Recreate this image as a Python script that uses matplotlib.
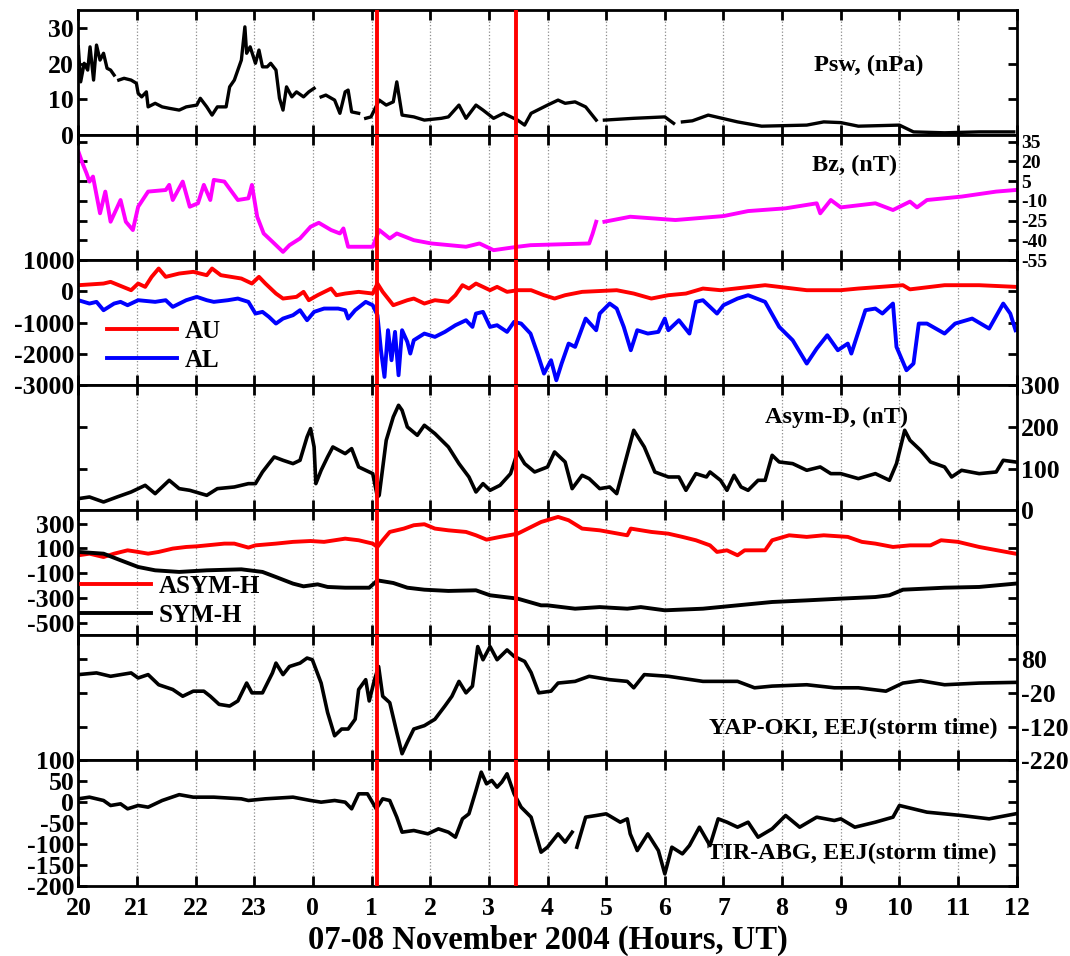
import matplotlib
matplotlib.use("Agg")
import matplotlib.pyplot as plt
import numpy as np

nan = np.nan

# time axis: hours counted from 00 UT 07 Nov (24 = 00 UT 08 Nov)
hour_ticks = list(range(20, 37))
hour_labels = ['20', '21', '22', '23', '0', '1', '2', '3', '4', '5', '6',
               '7', '8', '9', '10', '11', '12']
event_times = [25.10, 27.47]   # red markers

# solar wind dynamic pressure (nPa), nan = data gap
psw_t = [20.0, 20.04, 20.1, 20.16, 20.2, 20.26, 20.31, 20.37, 20.43, 20.49, 20.55, 20.61, 20.65,
         20.69, 20.78, 20.9, 20.99, 21.02, 21.08, 21.16, 21.19, 21.31, 21.43,
         21.55, 21.72, 21.84, 22.02, 22.08, 22.19, 22.28, 22.37, 22.52, 22.58,
         22.66, 22.72, 22.78, 22.84, 22.87, 22.93, 23.02, 23.08, 23.14, 23.22,
         23.28, 23.37, 23.43, 23.49, 23.55, 23.64, 23.72, 23.84, 23.93, 24.02, 24.08,
         24.14, 24.22, 24.37, 24.46, 24.55, 24.6, 24.66, 24.78, 24.84,
         24.9, 24.99, 25.13, 25.25, 25.37, 25.43, 25.52, 25.72, 25.9, 26.19,
         26.31, 26.49, 26.61, 26.78, 26.9, 27.08, 27.25, 27.49, 27.61, 27.72,
         28.0, 28.18, 28.3, 28.47, 28.65, 28.83, 28.9,
         28.97, 29.47, 30.0, 30.15, 30.22,
         30.3, 30.47, 30.74, 31.24, 31.65, 32.42, 32.71, 33.0, 33.3, 34.0,
         34.24, 34.77, 35.36, 35.95]
psw_v = [24.7, 14.9, 20.1, 18.2, 24.7, 15.4, 25.2, 21.0, 22.9, 18.7, 18.2, 16.8, nan,
         15.4, 15.9, 15.4, 14.5, 11.7, 10.7, 12.1, 7.9, 8.9, 7.9,
         7.5, 7.0, 7.9, 8.4, 10.3, 7.9, 5.6, 7.9, 7.9, 13.5,
         15.4, 18.2, 21.0, 30.3, 22.9, 24.7, 20.1, 23.8, 19.1, 19.1,
         20.1, 18.2, 10.3, 7.0, 13.5, 10.7, 12.1, 10.7, 12.1, 13.1, nan,
         10.7, 11.2, 9.8, 6.1, 12.1, 12.6, 6.5, 6.1, nan,
         4.7, 5.1, 9.8, 8.4, 9.3, 14.9, 5.6, 5.1, 4.2, 4.7,
         5.1, 8.4, 4.7, 8.4, 7.0, 4.7, 6.1, 4.2, 2.8, 6.1,
         8.4, 9.8, 8.9, 9.3, 7.9, 4.2, nan,
         4.2, 4.7, 5.1, 3.3, nan,
         3.7, 4.0, 5.6, 3.7, 2.5, 2.8, 3.7, 3.5, 2.5, 2.8,
         0.9, 0.65, 0.9, 0.9]

# IMF Bz (nT)
bz_t = [20.0, 20.07, 20.14, 20.19, 20.25, 20.37, 20.46, 20.55, 20.72, 20.81,
        20.93, 21.02, 21.19, 21.49, 21.55, 21.61, 21.78, 21.9, 22.04, 22.14,
        22.25, 22.31, 22.49, 22.72, 22.9, 22.96, 23.05, 23.16, 23.31, 23.49,
        23.6, 23.78, 23.96, 24.1, 24.31, 24.46, 24.52, 24.6, 25.02, 25.13,
        25.31, 25.43, 25.72, 26.02, 26.61, 26.84, 27.08, 27.49, 27.71, 28.71,
        28.77, 28.83, 28.9, 28.97, 29.41, 30.18, 31.0, 31.42, 32.06, 32.59,
        32.65, 32.83, 33.0, 33.59, 33.89, 34.18, 34.3, 34.47, 35.06, 35.65, 35.98]
bz_v = [27.6, 18.7, 11.0, 4.7, 8.5, -19.4, -2.9, -25.8, -9.3, -25.8,
        -32.1, -14.4, -2.9, -1.7, 2.2, -9.3, 4.7, -14.4, -11.8, 2.2,
        -9.3, 6.0, 4.7, -9.3, -8.0, 2.2, -22.0, -34.7, -41.0, -48.7,
        -43.6, -38.5, -29.6, -26.6, -32.1, -34.7, -30.9, -44.8, -44.8, -32.1,
        -38.5, -34.7, -39.8, -42.3, -44.8, -42.3, -47.4, -44.8, -43.6, -42.3,
        -34.7, -25.8, nan, -25.8, -22.0, -24.5, -21.5, -17.7, -15.6, -11.8,
        -19.4, -9.3, -14.9, -11.8, -16.9, -10.5, -14.9, -9.3, -6.7, -2.9, -1.7]

# AU / AL (nT)
au_t = [20.0, 20.43, 20.55, 20.9, 21.02, 21.14, 21.25, 21.37, 21.49, 21.72,
        21.96, 22.19, 22.28, 22.43, 22.78, 22.96, 23.08, 23.19, 23.37, 23.49,
        23.72, 23.84, 23.93, 24.08, 24.31, 24.4, 24.55, 24.78, 25.02, 25.1,
        25.19, 25.37, 25.61, 25.72, 25.9, 26.08, 26.31, 26.43, 26.55, 26.66,
        26.78, 27.02, 27.14, 27.31, 27.49, 27.72, 27.94, 28.12, 28.3, 28.59,
        29.18, 29.47, 29.77, 30.06, 30.36, 30.65, 30.95, 31.71, 32.42, 33.0,
        33.3, 34.06, 34.18, 34.77, 35.36, 35.98]
au_v = [200, 253, 307, 40, 253, 147, 467, 733, 467, 573,
        627, 520, 733, 520, 413, 253, 467, 253, -67, -227,
        -173, -13, -280, -120, 93, -120, -67, -13, -67, 253,
        -13, -440, -280, -227, -387, -280, -333, -120, 200, 93,
        253, 40, 147, -13, 40, 40, -120, -227, -120, -13,
        40, -67, -227, -120, -67, 93, 40, 200, 40, 40,
        93, 200, 67, 200, 200, 147]
al_t = [20.0, 20.19, 20.31, 20.43, 20.61, 20.72, 20.84, 21.02, 21.31, 21.49,
        21.61, 21.84, 22.02, 22.19, 22.31, 22.55, 22.72, 22.9, 23.02, 23.14,
        23.25, 23.37, 23.49, 23.66, 23.78, 23.9, 24.02, 24.19, 24.43, 24.55,
        24.6, 24.72, 24.9, 25.02, 25.1, 25.16, 25.22, 25.28, 25.34, 25.4,
        25.46, 25.52, 25.61, 25.66, 25.72, 25.9, 26.08, 26.25, 26.43, 26.61,
        26.72, 26.78, 26.9, 27.02, 27.14, 27.31, 27.43, 27.55, 27.71, 27.83,
        27.94, 28.06, 28.15, 28.24, 28.36, 28.47, 28.65, 28.83, 28.89, 29.06,
        29.18, 29.3, 29.42, 29.53, 29.71, 29.89, 30.0, 30.06, 30.24, 30.42,
        30.53, 30.65, 30.89, 31.0, 31.24, 31.42, 31.71, 31.95, 32.18, 32.42,
        32.59, 32.77, 32.95, 33.12, 33.18, 33.42, 33.59, 33.71, 33.89, 33.95,
        34.12, 34.24, 34.33, 34.47, 34.77, 34.95, 35.24, 35.53, 35.77, 35.89, 35.98]
al_v = [-280, -387, -333, -600, -387, -333, -440, -280, -333, -280,
        -493, -280, -173, -280, -333, -280, -227, -333, -707, -653,
        -813, -1027, -867, -760, -600, -920, -653, -547, -547, -600,
        -867, -600, -333, -440, -760, -1880, -2733, -1240, -2200, -1293,
        -2680, -1240, -1613, -1987, -1560, -1347, -1453, -1293, -1080, -920,
        -1133, -707, -653, -1133, -1080, -1293, -973, -1027, -1347, -1987,
        -2627, -2200, -2840, -2307, -1667, -1773, -867, -1240, -707, -387,
        -547, -1133, -1880, -1240, -1347, -1293, -867, -1240, -920, -1347,
        -333, -280, -707, -440, -227, -120, -333, -1133, -1560, -2307,
        -1827, -1400, -1880, -1667, -1987, -600, -547, -707, -387, -1773,
        -2520, -2307, -1027, -1027, -1347, -1027, -867, -1187, -387, -707, -1240]

# Asym-D (nT)
ad_t = [20.0, 20.19, 20.43, 20.66, 20.9, 21.02, 21.14, 21.31, 21.55, 21.72,
        21.9, 22.19, 22.37, 22.66, 22.9, 23.02, 23.14, 23.25, 23.34, 23.49,
        23.66, 23.78, 23.9, 23.96, 24.02, 24.05, 24.14, 24.25, 24.34, 24.55,
        24.66, 24.78, 25.02, 25.1, 25.13, 25.25, 25.37, 25.46, 25.52, 25.61,
        25.78, 25.9, 26.08, 26.31, 26.49, 26.66, 26.78, 26.9, 27.02, 27.19,
        27.37, 27.49, 27.61, 27.78, 28.0, 28.12, 28.3, 28.42, 28.59, 28.71,
        28.89, 29.06, 29.18, 29.47, 29.65, 29.83, 30.06, 30.24, 30.36, 30.53,
        30.71, 30.77, 30.95, 31.06, 31.18, 31.3, 31.42, 31.59, 31.71, 31.83,
        31.95, 32.18, 32.42, 32.65, 32.83, 33.0, 33.3, 33.59, 33.83, 33.95,
        34.09, 34.18, 34.36, 34.53, 34.77, 34.89, 35.06, 35.36, 35.65, 35.77, 35.98]
ad_v = [28, 32, 20, 32, 44, 52, 60, 40, 72, 52,
        48, 36, 52, 56, 64, 64, 92, 112, 128, 120,
        112, 120, 176, 196, 152, 64, 96, 128, 152, 136,
        148, 104, 88, 32, 36, 168, 224, 252, 240, 200,
        180, 204, 184, 152, 112, 80, 44, 64, 48, 60,
        88, 140, 112, 92, 104, 140, 116, 52, 84, 76,
        52, 56, 40, 192, 152, 92, 80, 80, 48, 88,
        80, 92, 72, 48, 84, 56, 48, 72, 72, 132,
        116, 112, 96, 104, 88, 88, 76, 88, 72, 112,
        192, 168, 144, 116, 104, 80, 96, 88, 92, 120, 116]

# ASYM-H and SYM-H (nT)
ah_t = [20.0, 20.19, 20.43, 20.61, 20.84, 21.02, 21.19, 21.37, 21.61, 21.84,
        22.02, 22.19, 22.49, 22.66, 22.9, 23.02, 23.37, 23.66, 23.96, 24.19,
        24.55, 24.78, 25.02, 25.1, 25.19, 25.31, 25.55, 25.72, 25.9, 26.08,
        26.31, 26.61, 26.78, 26.96, 27.19, 27.49, 27.72, 27.89, 28.18, 28.36,
        28.59, 28.89, 29.36, 29.42, 29.77, 30.06, 30.3, 30.53, 30.77, 30.89,
        31.06, 31.24, 31.36, 31.71, 31.83, 32.12, 32.42, 32.71, 33.12, 33.36,
        33.59, 33.89, 34.18, 34.53, 34.71, 35.0, 35.36, 35.98]
ah_v = [45, 58, 31, 58, 85, 72, 58, 72, 99, 112,
        117, 125, 139, 139, 107, 125, 139, 153, 160, 153,
        179, 166, 139, 112, 166, 233, 260, 287, 295, 260,
        246, 233, 206, 171, 193, 219, 273, 313, 354, 327,
        260, 246, 206, 260, 233, 219, 193, 166, 125, 72,
        85, 45, 85, 85, 166, 206, 193, 206, 193, 153,
        139, 112, 125, 125, 166, 153, 112, 58]
sh_t = [20.0, 20.43, 20.72, 21.02, 21.31, 21.72, 22.19, 22.78, 23.14, 23.37,
        23.66, 23.84, 24.08, 24.25, 24.55, 24.96, 25.1, 25.37, 25.61, 25.9,
        26.31, 26.78, 27.02, 27.49, 27.89, 28.0, 28.47, 28.89, 29.36, 29.59,
        30.0, 30.65, 31.24, 31.83, 32.42, 33.0, 33.59, 33.83, 34.06, 34.77,
        35.36, 35.98]
sh_v = [72, 58, 5, -49, -76, -89, -76, -68, -89, -130,
        -183, -205, -189, -210, -216, -216, -157, -178, -216, -232,
        -242, -237, -277, -304, -358, -358, -385, -372, -385, -372,
        -398, -385, -358, -331, -318, -304, -291, -277, -232, -216,
        -210, -183]

# YAP-OKI EEJ (nT)
yap_t = [20.0, 20.31, 20.55, 20.9, 21.02, 21.19, 21.37, 21.61, 21.78, 21.96,
         22.14, 22.25, 22.4, 22.58, 22.72, 22.87, 22.96, 23.14, 23.31, 23.37,
         23.49, 23.6, 23.78, 23.9, 23.99, 24.14, 24.25, 24.37, 24.49, 24.6,
         24.72, 24.78, 24.9, 24.96, 25.05, 25.12, 25.19, 25.31, 25.43, 25.52,
         25.61, 25.72, 25.9, 26.08, 26.25, 26.37, 26.49, 26.61, 26.72, 26.81,
         26.9, 27.02, 27.14, 27.31, 27.43, 27.61, 27.72, 27.85, 28.06, 28.18,
         28.47, 28.71, 29.06, 29.36, 29.47, 29.65, 30.06, 30.65, 31.24, 31.53,
         31.83, 32.42, 32.89, 33.3, 33.77, 34.06, 34.36, 34.77, 35.36, 35.98]
yap_v = [34, 39, 29, 39, 24, 34, 4, -10, -30, -15,
         -15, -30, -54, -59, -44, 9, -20, -20, 39, 68,
         34, 58, 68, 83, 78, 9, -78, -147, -127, -127,
         -98, -10, 19, -44, 19, 58, -30, -49, -137, -200,
         -166, -127, -117, -98, -59, -30, 14, -20, 0, 117,
         78, 117, 78, 107, 88, 73, 40, -20, -15, 9,
         14, 29, 19, 14, -5, 34, 29, 14, 14, -5,
         0, 4, -5, -5, -15, 9, 16, 4, 9, 11]

# TIR-ABG EEJ (nT)
tir_t = [20.0, 20.19, 20.43, 20.55, 20.72, 20.84, 21.02, 21.19, 21.43, 21.72,
         21.96, 22.31, 22.78, 22.9, 23.19, 23.66, 23.96, 24.14, 24.37, 24.55,
         24.66, 24.78, 24.93, 25.08, 25.19, 25.31, 25.43, 25.52, 25.72, 25.96,
         26.14, 26.31, 26.43, 26.55, 26.66, 26.78, 26.87, 26.96, 27.05, 27.14,
         27.22, 27.31, 27.43, 27.55, 27.72, 27.89, 28.0, 28.18, 28.3, 28.42,
         28.46, 28.5, 28.65, 28.83, 29.0, 29.24, 29.36, 29.41, 29.53, 29.71,
         29.89, 30.0, 30.12, 30.3, 30.42, 30.59, 30.77, 30.91, 31.06, 31.24,
         31.42, 31.59, 31.83, 32.06, 32.3, 32.59, 32.89, 33.0, 33.24, 33.59,
         33.89, 34.0, 34.47, 35.06, 35.53, 35.98]
tir_v = [8, 12, 4, -8, -4, -16, -8, -12, 4, 18,
         12, 12, 8, 4, 8, 12, 4, 0, 4, 0,
         -16, 20, 20, -16, 8, 4, -36, -72, -68, -76,
         -64, -72, -84, -40, -28, 28, 72, 44, 52, 36,
         48, 68, 20, -12, -36, -120, -108, -76, -96, -72,
         nan, -108, -36, -32, -28, -48, -40, -76, -116, -76,
         -116, -172, -108, -124, -104, -60, -104, -40, -48, -60,
         -48, -84, -64, -32, -60, -36, -44, -40, -60, -48,
         -36, -8, -24, -32, -40, -28]

plt.rcParams['font.family'] = ['Liberation Serif', 'DejaVu Serif']
plt.rcParams['font.weight'] = 'bold'
plt.rcParams['axes.unicode_minus'] = False

fig = plt.figure(figsize=(10.7, 9.56), dpi=100)
gs = fig.add_gridspec(7, 1, left=0.0732, right=0.9502, top=0.9895,
                      bottom=0.0737, hspace=0)
axes = [fig.add_subplot(gs[i]) for i in range(7)]


def style(ax, yticks, ylim, right=False, ysize=18.5):
    ax.set_xlim(20, 36)
    ax.set_ylim(*ylim)
    ax.set_xticks(hour_ticks)
    ax.set_xticklabels(hour_labels)
    ax.set_yticks(yticks)
    ax.tick_params(axis='x', direction='in', top=True, bottom=True,
                   length=7, width=2, labelbottom=False, labelsize=18.5, pad=8)
    ax.tick_params(axis='y', direction='in', left=True, right=True,
                   length=6.5, width=2, labelleft=not right,
                   labelright=right, labelsize=ysize, pad=3)
    for sp in ax.spines.values():
        sp.set_linewidth(2)
    ax.grid(axis='x', color='0.55', linestyle=':', linewidth=0.9)
    for t in event_times:
        ax.axvline(t, color='red', lw=2.8, zorder=6)


lab = dict(fontsize=17.5, fontweight='bold')
leg = dict(loc='center left', frameon=False, borderpad=0, borderaxespad=0,
           handlelength=2.8, handletextpad=0.3, labelspacing=0.25, fontsize=18)

ax = axes[0]
ax.plot(psw_t, psw_v, color='black', lw=2.4)
style(ax, [0, 10, 20, 30], (0, 35))
ax.text(0.8426, 0.56, 'Psw, (nPa)', transform=ax.transAxes, ha='center', va='center', **lab)

ax = axes[1]
ax.plot(bz_t, bz_v, color='#ff00ff', lw=2.8)
style(ax, [-55, -40, -25, -10, 5, 20, 35], (-55, 40), right=True, ysize=14)
ax.text(0.8277, 0.76, 'Bz, (nT)', transform=ax.transAxes, ha='center', va='center', **lab)

ax = axes[2]
ax.plot(au_t, au_v, color='red', lw=2.8, label='AU')
ax.plot(al_t, al_v, color='blue', lw=2.8, label='AL')
style(ax, [-3000, -2000, -1000, 0, 1000], (-3000, 1000))
ax.legend(bbox_to_anchor=(0.0306, 0.316), **leg)

ax = axes[3]
ax.plot(ad_t, ad_v, color='black', lw=2.6)
style(ax, [0, 100, 200, 300], (0, 300), right=True)
ax.text(0.8075, 0.744, 'Asym-D, (nT)', transform=ax.transAxes, ha='center', va='center', **lab)

ax = axes[4]
ax.plot(ah_t, ah_v, color='red', lw=2.8, label='ASYM-H')
ax.plot(sh_t, sh_v, color='black', lw=2.8, label='SYM-H')
style(ax, [-500, -300, -100, 100, 300], (-600, 407))
ax.legend(bbox_to_anchor=(0.003, 0.276), **leg)

ax = axes[5]
ax.plot(yap_t, yap_v, color='black', lw=2.6)
style(ax, [-220, -120, -20, 80], (-220, 150), right=True)
ax.text(0.980, 0.256, 'YAP-OKI, EEJ(storm time)', transform=ax.transAxes, ha='right', va='center', **lab)

ax = axes[6]
ax.plot(tir_t, tir_v, color='black', lw=2.6)
style(ax, [-200, -150, -100, -50, 0, 50, 100], (-200, 100))
ax.text(0.979, 0.256, 'TIR-ABG, EEJ(storm time)', transform=ax.transAxes, ha='right', va='center', **lab)
ax.tick_params(axis='x', labelbottom=True)
ax.set_xlabel('07-08 November 2004 (Hours, UT)', fontsize=23.5, fontweight='bold', labelpad=4)

fig.savefig('out.png', dpi=100)
